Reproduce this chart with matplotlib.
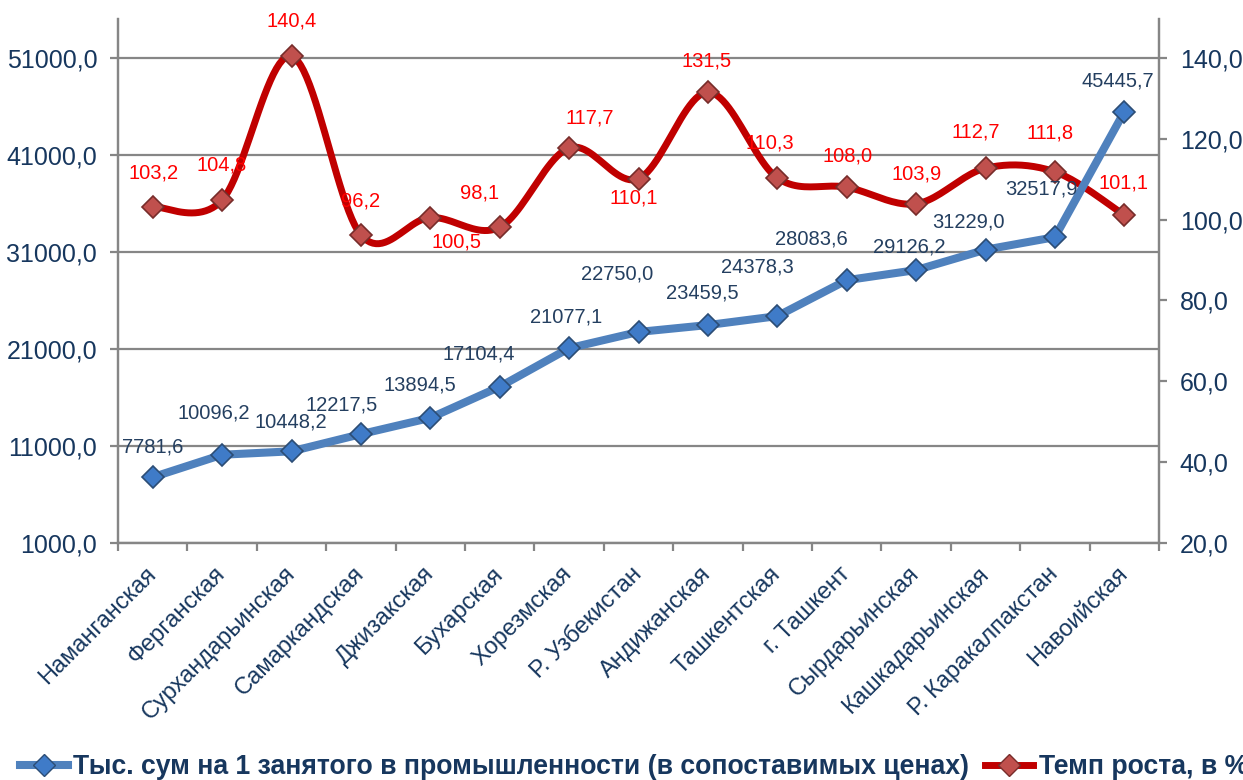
import matplotlib.pyplot as plt
import numpy as np
from matplotlib.lines import Line2D

plt.rcParams['font.family'] = ['Liberation Sans', 'DejaVu Sans']

regions = ["Наманганская", "Ферганская", "Сурхандарьинская", "Самаркандская",
           "Джизакская", "Бухарская", "Хорезмская", "Р. Узбекистан", "Андижанская",
           "Ташкентская", "г. Ташкент", "Сырдарьинская", "Кашкадарьинская",
           "Р. Каракалпакстан", "Навоийская"]
sum_per_worker = [7781.6, 10096.2, 10448.2, 12217.5, 13894.5, 17104.4, 21077.1, 22750.0,
                  23459.5, 24378.3, 28083.6, 29126.2, 31229.0, 32517.9, 45445.7]
growth = [103.2, 104.8, 140.4, 96.2, 100.5, 98.1, 117.7, 110.1,
          131.5, 110.3, 108.0, 103.9, 112.7, 111.8, 101.1]

label1 = "Тыс. сум на 1 занятого в промышленности (в сопоставимых ценах)"
label2 = "Темп роста, в %"

# label offsets in pixels (dx, dy) relative to the points
blue_off = [(0, 30), (-8, 42), (-1, 29), (-19, 29), (-10, 33), (-21, 33), (-3, 31), (-21, 58),
            (-6, 32), (-20, 49), (-35, 41), (-7, 23), (-17, 28), (-13, 48), (-6, 31)]
red_off = [(1, 34), (0, 35), (0, 35), (0, 34), (26, -24), (-20, 34), (21, 30), (-5, -19),
           (-1, 31), (-7, 35), (1, 31), (1, 30), (-10, 36), (-5, 39), (-1, 32)]

txt_col = '#17375E'
grid_col = '#868686'

def smooth(xs, ys, n=24):
    # catmull-rom style bezier, like the excel "smoothed line"
    p = np.column_stack([xs, ys]).astype(float)
    pp = np.vstack([p[0], p, p[-1]])
    out = []
    for i in range(len(p) - 1):
        p0, p1, p2, p3 = pp[i], pp[i + 1], pp[i + 2], pp[i + 3]
        c1 = p1 + (p2 - p0) / 6
        c2 = p2 - (p3 - p1) / 6
        t = np.linspace(0, 1, n)[:, None]
        seg = (1 - t) ** 3 * p1 + 3 * (1 - t) ** 2 * t * c1 + 3 * (1 - t) * t ** 2 * c2 + t ** 3 * p2
        out.append(seg if i == 0 else seg[1:])
    out = np.vstack(out)
    return out[:, 0], out[:, 1]

x = np.arange(len(regions))

fig = plt.figure(figsize=(12.43, 7.8), dpi=100)
ax = fig.add_axes([118 / 1243, 237 / 780, 1041 / 1243, 524 / 780])
ax2 = ax.twinx()
ax3 = ax.twinx()

ax.set_xlim(-0.5, len(regions) - 0.5)
ax.set_ylim(1000, 55000)
ax2.set_ylim(20, 149.6)
ax3.set_ylim(1000, 55000)

ax.set_yticks(np.arange(1000, 51001, 10000))
ax.set_yticklabels([f"{v:.1f}".replace('.', ',') for v in np.arange(1000, 51001, 10000)])
ax2.set_yticks(np.arange(20, 141, 20))
ax2.set_yticklabels([f"{v:.1f}".replace('.', ',') for v in np.arange(20, 141, 20)])
ax.grid(axis='y', color=grid_col, linewidth=1.6)
ax.set_axisbelow(True)

ax.set_xticks(x)
ax.set_xticklabels(regions, rotation=45, ha='right', va='center', rotation_mode='anchor')
ax.set_xticks(np.arange(-0.5, len(regions), 1), minor=True)
ax.tick_params(axis='x', which='major', length=0, pad=20, labelsize=17, labelcolor=txt_col)
ax.tick_params(axis='x', which='minor', length=6, width=1.6, color=grid_col)
ax.tick_params(axis='y', length=6, width=1.6, color=grid_col, labelsize=18, labelcolor=txt_col, pad=9)
ax2.tick_params(axis='y', length=6, width=1.6, color=grid_col, labelsize=18, labelcolor=txt_col, pad=9)

for a in (ax, ax2, ax3):
    a.spines['top'].set_visible(False)
    for s in ('left', 'right', 'bottom'):
        a.spines[s].set_color(grid_col)
        a.spines[s].set_linewidth(1.6)
ax3.set_yticks([])
ax3.spines['right'].set_visible(False)
ax3.spines['left'].set_visible(False)
ax3.spines['bottom'].set_visible(False)

# red series, smoothed
sx, sy = smooth(x, growth)
ax2.plot(sx, sy, color='#C00000', linewidth=5, solid_capstyle='round', zorder=2)
ax2.plot(x, growth, linestyle='none', marker='D', markersize=11,
         markerfacecolor='#C0504D', markeredgecolor='#772C2A', markeredgewidth=1.2, zorder=3)

# blue series on top
ax3.plot(x, sum_per_worker, color='#4F81BD', linewidth=5.8, solid_capstyle='round', zorder=2)
ax3.plot(x, sum_per_worker, linestyle='none', marker='D', markersize=11,
         markerfacecolor='#3F7BC8', markeredgecolor='#2C4D75', markeredgewidth=1.2, zorder=3)

for i, v in enumerate(sum_per_worker):
    ax3.annotate(f"{v:.1f}".replace('.', ','), (x[i], v), xytext=blue_off[i],
                 textcoords='offset pixels', ha='center', va='center',
                 fontsize=14.5, color='#243F60', zorder=5)
for i, v in enumerate(growth):
    ax3.annotate(f"{v:.1f}".replace('.', ','), (x[i], v), xycoords=ax2.transData,
                 xytext=red_off[i], textcoords='offset pixels', ha='center', va='center',
                 fontsize=14.5, color='#FF0000', zorder=5)

h1 = Line2D([], [], color='#4F81BD', linewidth=5.8, marker='D', markersize=11,
            markerfacecolor='#3F7BC8', markeredgecolor='#2C4D75')
h2 = Line2D([], [], color='#C00000', linewidth=5, marker='D', markersize=11,
            markerfacecolor='#C0504D', markeredgecolor='#772C2A')
leg = fig.legend([h1, h2], [label1, label2], loc='center left', bbox_to_anchor=(12 / 1243, 13 / 780),
                 ncol=2, frameon=False, handlelength=1.8, handletextpad=0.2,
                 columnspacing=0.6, borderaxespad=0, borderpad=0.3,
                 prop={'size': 19.2, 'weight': 'bold'})
for t in leg.get_texts():
    t.set_color(txt_col)

fig.savefig('out.png', dpi=100)
